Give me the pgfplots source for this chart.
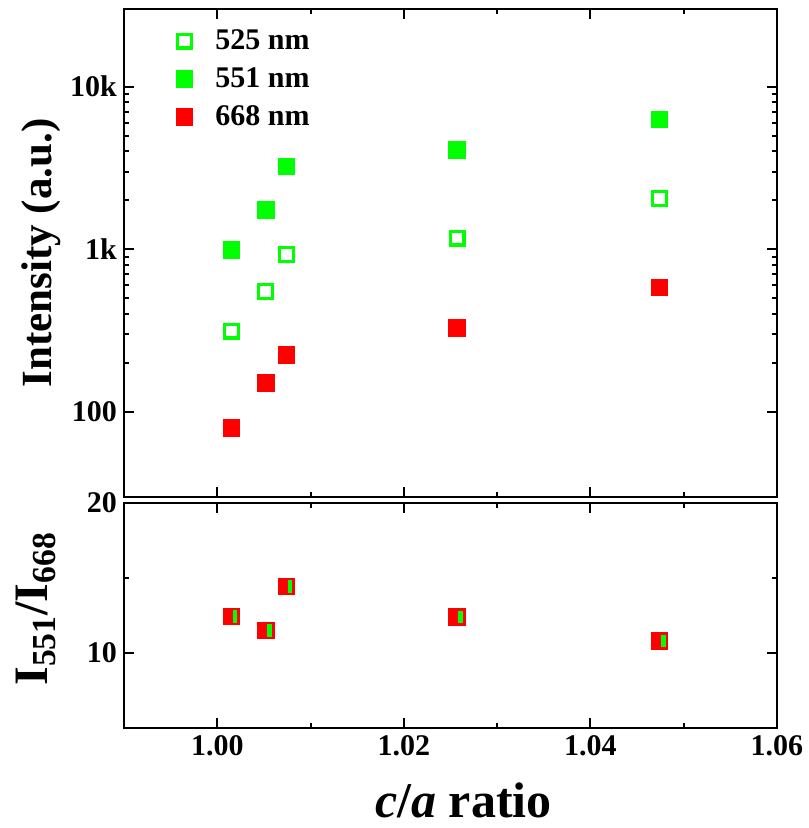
\documentclass[border=0pt]{standalone}
\usepackage{pgfplots}
\pgfplotsset{compat=1.18}
\usepackage{fontspec}
\setmainfont{Liberation Serif}
\definecolor{lgreen}{HTML}{00FF00}
\definecolor{lred}{HTML}{FF0000}
% thin green bar that sits inside the red ratio squares
\pgfdeclareplotmark{gbar}{%
  \pgfpathrectangle{\pgfpoint{0.65pt}{-3.15pt}}{\pgfpoint{2.4pt}{6.3pt}}%
  \pgfusepathqfill}

\pgfplotsset{
  panel/.style={
    scale only axis, width=326.5pt,
    xmin=0.99, xmax=1.06,
    xtick={1.00,1.02,1.04,1.06}, minor x tick num=1,
    axis line style={line width=1pt},
    tick style={black, line width=1pt},
    major tick length=5pt, minor tick length=2.5pt,
    tick label style={font=\fontsize{15}{17}\selectfont\bfseries},
    label style={font=\fontsize{21.5}{24}\selectfont\bfseries},
    /pgf/number format/assume math mode=true,
  },
}

\begin{document}
\begin{tikzpicture}
\path[use as bounding box] (0,0) rectangle (404pt,-414pt);

\begin{axis}[panel,
  at={(62pt,-248.5pt)}, anchor=south west, height=244pt,
  ymode=log, ymin=30, ymax=30000,
  ytick={100,1000,10000}, yticklabels={100,1k,10k},
  xticklabels={},
  ylabel={Intensity (a.u.)},
  ylabel style={at={(axis description cs:-0.127,0.5)}, anchor=center},
  legend style={draw=none, fill=none, at={(0.057,0.975)}, anchor=north west,
    font=\fontsize{15}{17}\selectfont\bfseries, row sep=3.5pt},
  legend cell align=left,
  legend image code/.code={%
    \draw[#1, only marks] plot coordinates {(0.3cm,0cm)};
    \path[draw=none, fill=none] (0cm,0cm) -- (0.77cm,0cm);},
]
\addplot[only marks, mark=square, lgreen, mark size=3.45pt, mark options={line width=1.6pt}]
  coordinates {(1.0015,314) (1.0052,552) (1.0074,931) (1.0257,1172) (1.0474,2056)};
\addlegendentry{525 nm}
\addplot[only marks, mark=square*, lgreen, mark size=4.1pt]
  coordinates {(1.0015,990) (1.0052,1742) (1.0074,3245) (1.0257,4093) (1.0474,6300)};
\addlegendentry{551 nm}
\addplot[only marks, mark=square*, lred, mark size=4.1pt]
  coordinates {(1.0015,79.8) (1.0052,151) (1.0074,224) (1.0257,329) (1.0474,582)};
\addlegendentry{668 nm}
\end{axis}

\begin{axis}[panel,
  at={(62pt,-364pt)}, anchor=south west, height=112.5pt,
  ymin=5, ymax=20, ytick={10,20}, minor ytick={15},
  xticklabel style={/pgf/number format/.cd, fixed, fixed zerofill, precision=2},
  xlabel={\textit{c}/\textit{a} ratio},
  xlabel style={at={(axis description cs:0.52,-0.32)}, anchor=center,
    font=\fontsize{25}{28}\selectfont\bfseries},
  ylabel={I\textsubscript{551}/I\textsubscript{668}},
  ylabel style={at={(axis description cs:-0.135,0.53)}, anchor=center,
    font=\fontsize{24}{27}\selectfont\bfseries},
]
\addplot[only marks, mark=square*, lred, mark size=4.1pt]
  coordinates {(1.0015,12.45) (1.0052,11.5) (1.0074,14.45) (1.0257,12.4) (1.0474,10.8)};
\addplot[only marks, mark=gbar, lgreen]
  coordinates {(1.0015,12.45) (1.0052,11.5) (1.0074,14.45) (1.0257,12.4) (1.0474,10.8)};
\end{axis}
\end{tikzpicture}
\end{document}
